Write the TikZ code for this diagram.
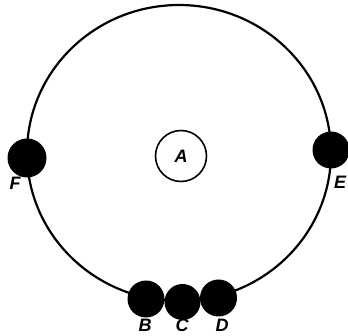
\documentclass[tikz,border=0pt]{standalone}
\usepackage{fontspec}
\setsansfont{Liberation Sans}
\usepackage{tikz}
\usetikzlibrary{positioning}

\begin{document}
\begin{tikzpicture}[
    x=1pt, y=-1pt,
    orbit/.style={line width=2.2pt},
    planet/.style={circle, fill=black, inner sep=0pt, minimum size=37pt},
    sun/.style={circle, draw, line width=1.6pt, inner sep=0pt, minimum size=51pt, font=\sffamily\bfseries\itshape\fontsize{18}{18}\selectfont},
    tag/.style={font=\sffamily\bfseries\itshape\fontsize{18}{18}\selectfont, inner sep=0pt}
]
\useasboundingbox (0,0) rectangle (348,336);

% orbit and central body
\draw[orbit] (179,153) ellipse [x radius=152, y radius=148];
\node[sun] (A) at (181,156) {A};

% bodies on the orbit
\node[planet, minimum size=39pt] (F) at (27,158) {};
\node[planet] (E) at (331,150) {};
\node[planet] (B) at (146,299) {};
\node[planet, minimum size=36pt] (C) at (182.5,302) {};
\node[planet] (D) at (218.5,298) {};

% labels
\node[tag] (labF) at (15,183) {F};
\node[tag] (labE) at (340,182) {E};
\node[tag] (labB) at (145,325) {B};
\node[tag] (labC) at (182,325) {C};
\node[tag] (labD) at (222,325) {D};
\end{tikzpicture}
\end{document}
